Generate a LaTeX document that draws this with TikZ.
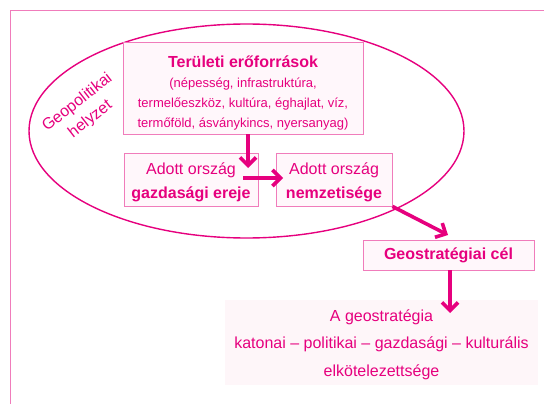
\documentclass[tikz,border=0pt]{standalone}
\usepackage{fontspec}
\setmainfont{Liberation Sans}
\usetikzlibrary{arrows.meta}
\definecolor{mag}{HTML}{E6007E}
\definecolor{boxline}{HTML}{F07CBB}
\definecolor{boxfill}{HTML}{FFF7FB}
\definecolor{lowfill}{HTML}{FEF6F9}
\tikzset{
  pbox/.style={draw=boxline, fill=boxfill, line width=0.9pt, inner sep=0pt},
  ptext/.style={text=mag, align=center, inner sep=0pt},
  parrow/.style={draw=mag, line width=3.6pt, -{Straight Barb[length=8pt,width=16pt]}}
}

\begin{document}
\begin{tikzpicture}[x=1pt,y=-1pt]
\useasboundingbox (0,0) rectangle (544,404);
\fill[white] (0,0) rectangle (544,404);
\draw[boxline, line width=1pt] (10,404) |- (544,11);
\draw[mag, line width=1.4pt] (246.5,131) ellipse [x radius=217.5, y radius=107];
\node[pbox, minimum width=240pt, minimum height=92pt] (Res) at (243,88) {};
\node[ptext, font=\fontsize{13}{20}\selectfont] (ResLabel) at (243,93.2) {{\fontsize{16}{20}\selectfont\bfseries Területi erőforrások}\\ (népesség, infrastruktúra,\\ termelőeszköz, kultúra, éghajlat, víz,\\ termőföld, ásványkincs, nyersanyag)};
\node[pbox, minimum width=134pt, minimum height=53pt] (Econ) at (191,179.5) {};
\node[ptext, font=\fontsize{16}{24}\selectfont] (EconLabel) at (191,182.5) {Adott ország\\ \textbf{gazdasági ereje}};
\node[pbox, minimum width=116pt, minimum height=53pt] (Nat) at (334,179.5) {};
\node[ptext, font=\fontsize{16}{24}\selectfont] (NatLabel) at (334,182.5) {Adott ország\\ \textbf{nemzetisége}};
\node[pbox, ptext, minimum width=171pt, minimum height=30pt, font=\fontsize{16}{20}\selectfont\bfseries] (Goal) at (448.5,255) {Geostratégiai cél};
\node[fill=lowfill, minimum width=313pt, minimum height=85pt, inner sep=0pt] (Commit) at (381.5,342.5) {};
\node[ptext, font=\fontsize{16}{27.5}\selectfont] (CommitLabel) at (381.5,344.7) {A geostratégia\\ katonai -- politikai -- gazdasági -- kulturális\\ elkötelezettsége};
\node[ptext, rotate=38, font=\fontsize{16}{21}\selectfont] (Geo) at (84,111) {Geopolitikai\\ helyzet};
\coordinate (T1) at (248,168);
\coordinate (S2) at (243,178);
\coordinate (T2) at (283,178);
\coordinate (T3) at (448,235);
\coordinate (T4) at (450,313);
\draw[parrow] (Res.south -| T1) -- (T1);
\draw[parrow] (S2) -- (T2);
\draw[parrow] (Nat.south east) -- (T3);
\draw[parrow] (Goal.south -| T4) -- (T4);
\end{tikzpicture}
\end{document}
